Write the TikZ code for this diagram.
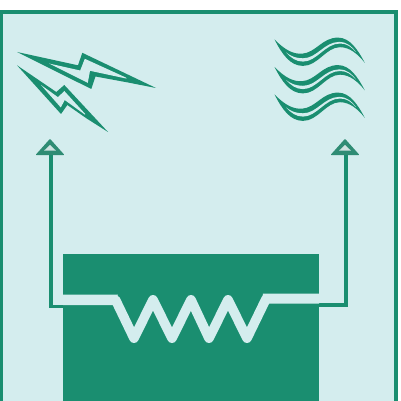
\documentclass[tikz,border=0pt]{standalone}
\definecolor{gr}{HTML}{1A8E70}
\definecolor{lt}{HTML}{D4EDEE}
\definecolor{tipfill}{HTML}{CFE2E0}
\definecolor{tipline}{HTML}{2F8C74}
\tikzset{
  wire/.style={draw=gr,line width=3.4pt},
  zig/.style={draw=lt,line width=9.6pt,line join=round,line cap=round}
}
\begin{document}
\begin{tikzpicture}[x=1pt,y=-1pt]
\useasboundingbox (0,0) rectangle (401,401);
\fill[white] (0,0) rectangle (401,401);
\fill[lt] (0,10) rectangle (398,401);
\draw[gr,line width=4pt] (1.3,401) -- (1.3,12) -- (396.2,12) -- (396.2,401);
% wires
\draw[wire] (51,150) -- (51,306.6) -- (120,306.6);
\draw[wire] (346,150) -- (346,304.9) -- (270,304.9);
% arrowheads
\foreach \ax in {50,345}{
  \fill[tipline,rounded corners=0.8pt] (\ax,138.8) -- (\ax-14.5,155) -- (\ax+14.5,155) -- cycle;
  \fill[tipfill] (\ax,145) -- (\ax-5.8,150.5) -- (\ax+5.8,150.5) -- cycle;
}
% block
\fill[gr] (63,254) rectangle (319,401);
% zigzag
\fill[lt] (63,294.6) -- (118,294.6) -- (113,305) -- (63,305) -- cycle;
\fill[lt] (263,293.5) -- (319,293.5) -- (319,303.5) -- (269,303.5) -- (262,300) -- cycle;
\draw[zig] (115.5,299.8) -- (134,338.2) -- (153,299.8) -- (172,338.2) -- (191,299.8) -- (209,338.2) -- (228,299.8) -- (247,338.2) -- (266,299);
% bolts
\fill[gr] (17,52) -- (78,65.3) -- (82.3,52.8) -- (156,88) -- (128,82.5) -- (95.5,76.5) -- (91.3,89) -- cycle;
\fill[lt] (49,63.5) -- (80.2,70.5) -- (84.8,58.8) -- (126,77.6) -- (126.5,78.6) -- (90,70.8) -- (87.8,82.8) -- cycle;
\fill[gr] (17,65.3) -- (56.3,92) -- (64.3,85) -- (108,132) -- (86.7,118.5) -- (67.3,105) -- (61,114) -- cycle;
\fill[lt] (41,85) -- (58,97.2) -- (64.3,91) -- (85,113.7) -- (85,114.7) -- (64.7,100) -- (60.8,107.5) -- cycle;
% waves
\foreach \dy in {0,27.5,55}{
  \begin{scope}[yshift=-\dy pt]
  \fill[gr] (274.5,39.5) .. controls (285,50) and (293,54.2) .. (302,53.7) .. controls (316,52.7) and (322,37.6) .. (338,37.6) .. controls (350,37.6) and (358,50) .. (364.8,62.8)
     .. controls (358,54.3) and (350,47.2) .. (340,47.2) .. controls (326,47.2) and (318,65.9) .. (303,65.9) .. controls (290,65.9) and (282,54) .. (274.5,39.5) -- cycle;
  \fill[lt] (286,52.5) .. controls (291,56.3) and (296,58.3) .. (303,58.3) .. controls (317,58.3) and (324,42.2) .. (339,41.9) .. controls (347,41.9) and (352,46.5) .. (356,52)
     .. controls (351,46.8) and (347,43.5) .. (340,43.5) .. controls (325,43.5) and (317,61.6) .. (303,61.6) .. controls (296,61.6) and (291,57.8) .. (286,52.5) -- cycle;
  \end{scope}
}
\end{tikzpicture}
\end{document}
